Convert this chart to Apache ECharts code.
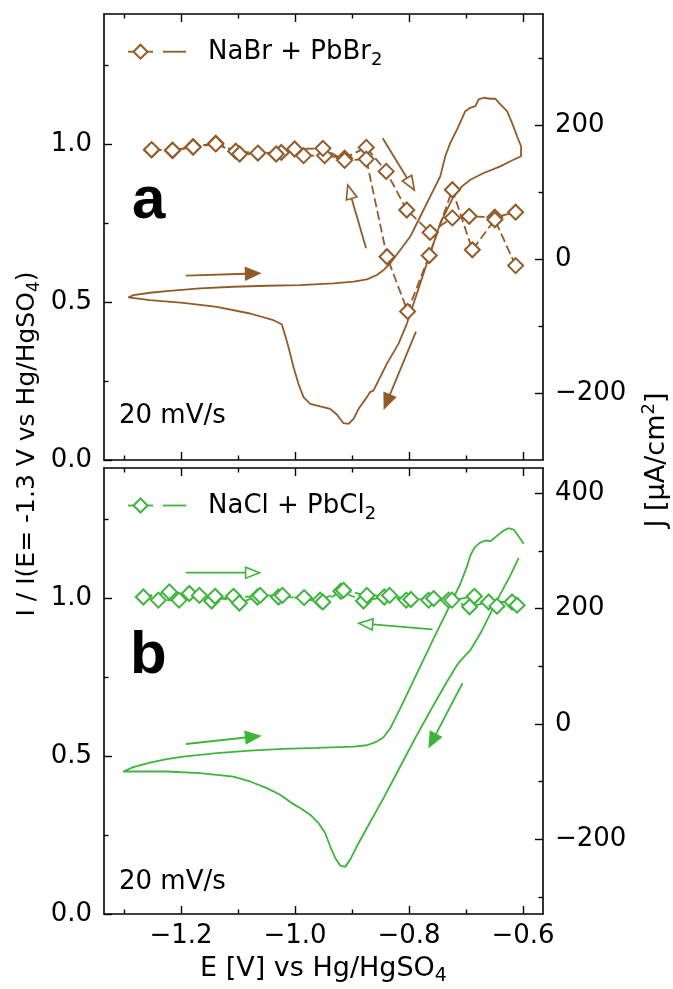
<!DOCTYPE html>
<html>
<head>
<meta charset="utf-8">
<script src="https://cdn.jsdelivr.net/npm/echarts@6/dist/echarts.min.js"></script>
<style>
  html, body { margin: 0; padding: 0; background: #fff; }
  #chart { width: 673px; height: 989px; }
</style>
</head>
<body>
<div id="chart"></div>
<script>
// ---------------- data ----------------
const xMajorTicks = [-1.2, -1.0, -0.8, -0.6];
const xMinorTicks = [-1.3, -1.1, -0.9, -0.7];
const iMajorTicks = [0, 0.5, 1.0];
const iMinorTicks = [0.25, 0.75, 1.25];
const jMajorTicksA = [-200, 0, 200];
const jMinorTicksA = [-100, 100, 300];
const jMajorTicksB = [-200, 0, 200, 400];
const jMinorTicksB = [-300, -100, 100, 300];

// Panel a: NaBr + PbBr2, cyclic voltammogram (J, uA/cm2)
const cvA_E = [-1.2924,-1.2836,-1.2543,-1.2251,-1.1666,-1.1080,-1.0495,-0.9910,-0.9325,-0.8973,-0.8739,-0.8564,-0.8447,-0.8329,-0.8154,-0.7978,-0.7803,-0.7627,-0.7452,-0.7364,-0.7276,-0.7159,-0.7013,-0.6925,-0.6837,-0.6779,-0.6691,-0.6574,-0.6486,-0.6398,-0.6281,-0.6193,-0.6105,-0.6035,-0.6035,-0.6222,-0.6398,-0.6691,-0.6925,-0.7071,-0.7218,-0.7335,-0.7452,-0.7569,-0.7686,-0.7803,-0.7920,-0.8037,-0.8183,-0.8388,-0.8534,-0.8622,-0.8681,-0.8739,-0.8885,-0.8973,-0.9061,-0.9149,-0.9266,-0.9383,-0.9559,-0.9734,-0.9851,-0.9939,-1.0027,-1.0115,-1.0173,-1.0232,-1.0378,-1.0788,-1.1373,-1.1958,-1.2543,-1.2924];
const cvA_J = [-57,-53.5,-50,-47.5,-43.5,-41,-39.5,-38.5,-36,-33.5,-30,-23.5,-16,-6,14,34,64,94,124,154,174,194,221.5,226.5,229,239,241.5,240,240,231.5,221.5,204,184,169,154,146.5,139,129,119,109,94,74,54,24,-6,-36,-66,-96,-126,-156,-181,-196,-198.5,-206,-223.5,-238.5,-246,-245,-232,-223.5,-220,-216,-206,-186,-161,-131,-113.5,-97,-91,-81,-71,-65,-61,-57];

// Panel a: normalised intensity I / I(E=-1.3 V)
const nabrFwd_E = [-1.2515,-1.2148,-1.1787,-1.139,-1.104,-1.065,-1.024,-0.985,-0.948,-0.913,-0.875,-0.840,-0.804,-0.763,-0.724,-0.6945,-0.6495,-0.613];
const nabrFwd_I = [0.981,0.979,0.991,1.002,0.977,0.971,0.973,0.963,0.963,0.955,0.989,0.913,0.791,0.720,0.766,0.771,0.768,0.784];
const nabrRev_E = [-0.613,-0.6495,-0.689,-0.724,-0.7645,-0.8025,-0.8386,-0.875,-0.913,-0.951,-1.0007,-1.033,-1.097,-1.139,-1.1787,-1.2148,-1.2515];
const nabrRev_I = [0.615,0.760,0.665,0.855,0.647,0.470,0.643,0.952,0.948,0.986,0.984,0.968,0.968,1.000,0.990,0.980,0.982];

// Panel b: NaCl + PbCl2, cyclic voltammogram
const cvB_E = [-0.6076,-0.6222,-0.6457,-0.6749,-0.6925,-0.7100,-0.7159,-0.7335,-0.7569,-0.7861,-0.8154,-0.8447,-0.8739,-0.8915,-0.9032,-0.9120,-0.9207,-0.9295,-0.9383,-0.9471,-0.9588,-0.9734,-0.9910,-1.0056,-1.0261,-1.0495,-1.0788,-1.1080,-1.1666,-1.2251,-1.2719,-1.3012,-1.2836,-1.2543,-1.2251,-1.1958,-1.1373,-1.0788,-1.0202,-0.9617,-0.8973,-0.8739,-0.8564,-0.8447,-0.8329,-0.8154,-0.7861,-0.7569,-0.7276,-0.7100,-0.6983,-0.6925,-0.6855,-0.6761,-0.6662,-0.6574,-0.6457,-0.6340,-0.6252,-0.6164,-0.6076,-0.5988];
const cvB_J = [288.2,257.6,214.4,156.8,128,109.5,102,73.2,32.9,-19,-73.8,-128.5,-180.4,-212.1,-235.2,-247.8,-245.5,-232.3,-212.1,-189,-171.8,-157.3,-145.8,-137.2,-122.8,-111.2,-99.7,-91.1,-85.3,-82.4,-82.4,-82.4,-74.9,-66.9,-61.1,-56.5,-50.7,-46.1,-43.2,-41.5,-39.2,-36.9,-30.5,-23.1,-7.5,27.1,87.6,148.1,206.9,243.2,273.2,292.2,305.5,314.1,318.2,317,326.2,335.4,339.5,337.2,325.1,312.4];

const naclFwd_E = [-1.266,-1.2204,-1.1853,-1.1461,-1.108,-1.0659,-1.029,-0.984,-0.9559,-0.9196,-0.8798,-0.8435,-0.8049,-0.7656,-0.7305,-0.6937,-0.6603,-0.6193];
const naclFwd_I = [1.003,1.019,1.014,0.990,1.005,1.003,1.003,1.001,0.993,1.021,0.990,1.003,0.993,0.993,0.993,0.972,0.987,0.987];
const naclRev_E = [-0.6105,-0.6457,-0.6855,-0.7247,-0.7569,-0.7967,-0.8341,-0.8739,-0.915,-0.9512,-1.022,-1.0612,-1.0975,-1.1402,-1.1677,-1.2034,-1.2397];
const naclRev_I = [0.977,0.974,1.005,0.993,0.998,0.995,1.008,1.008,1.024,0.987,1.008,1.008,0.984,1.005,1.008,0.993,0.993];

// Scan-direction arrows [E_start, J_start, E_end, J_end, filledHead]
const arrowsA = [[-1.1915,-24.5,-1.062,-20.9,1],[-0.7878,-108.2,-0.8432,-222.3,1],[-0.8462,180.9,-0.7907,103.6,0],[-0.8753,16.4,-0.9075,111.1,0]];
const arrowsB = [[-1.1915,262.4,-1.062,262.4,0],[-0.7587,164.2,-0.8883,174.6,0],[-1.1915,-34.7,-1.062,-20.8,1],[-0.7062,70.6,-0.7645,-39.4,1]];

// ---------------- style / layout ----------------
const BROWN = '#925a28';
const GREEN = '#3db53d';
const FONT = "'DejaVu Sans', sans-serif";
const X_MIN = -1.335, X_MAX = -0.565;
const I_MIN = 0, I_MAX = 1.411;
const J_A = [-300, 366.7];
const J_B = [-329.5, 443.9];
const GRIDS = [{ left: 104, top: 14, width: 439, height: 446 }, { left: 104, top: 468, width: 439, height: 446 }];

const zip = (a, b) => a.map((v, i) => [v, b[i]]);
const fmt1 = v => (v < 0 ? '\u2212' : '') + Math.abs(v).toFixed(1);
const fmt0 = v => (v < 0 ? '\u2212' : '') + Math.abs(v).toFixed(0);

function axisBase(extra) {
  return Object.assign({
    type: 'value',
    splitLine: { show: false },
    axisLine: { show: true, onZero: false, lineStyle: { color: '#000', width: 1.6 } },
    axisLabel: { show: false },
    axisPointer: { show: false }
  }, extra);
}
function tickStyle(values, len) {
  return { show: true, inside: true, length: len, customValues: values, lineStyle: { color: '#000', width: 1.4 } };
}
const subRich = (size) => ({
  s: { fontSize: size, fontFamily: FONT, color: '#000', verticalAlign: 'bottom' },
  p: { fontSize: size, fontFamily: FONT, color: '#000', verticalAlign: 'top' }
});

const xAxes = [], yAxes = [];
[0, 1].forEach(g => {
  xAxes.push(axisBase({
    gridIndex: g, position: 'bottom', min: X_MIN, max: X_MAX,
    axisTick: tickStyle(xMajorTicks, 8),
    axisLabel: g === 1 ? { show: true, customValues: xMajorTicks, formatter: fmt1, margin: 9, fontSize: 26, fontFamily: FONT, color: '#000' } : { show: false },
    name: g === 1 ? 'E [V] vs Hg/HgSO{s|4}' : '',
    nameLocation: 'middle', nameGap: 38,
    nameTextStyle: { fontSize: 27, lineHeight: 34, fontFamily: FONT, color: '#000', rich: subRich(19) }
  }));
  xAxes.push(axisBase({ gridIndex: g, position: 'bottom', min: X_MIN, max: X_MAX, axisLine: { show: false, onZero: false }, axisTick: tickStyle(xMinorTicks, 4.5) }));
  xAxes.push(axisBase({ gridIndex: g, position: 'top', min: X_MIN, max: X_MAX, axisTick: tickStyle(xMajorTicks, 8) }));
  xAxes.push(axisBase({ gridIndex: g, position: 'top', min: X_MIN, max: X_MAX, axisLine: { show: false, onZero: false }, axisTick: tickStyle(xMinorTicks, 4.5) }));

  const J = g === 0 ? J_A : J_B;
  const jMaj = g === 0 ? jMajorTicksA : jMajorTicksB;
  const jMin = g === 0 ? jMinorTicksA : jMinorTicksB;
  yAxes.push(axisBase({
    gridIndex: g, position: 'left', min: I_MIN, max: I_MAX,
    axisTick: tickStyle(iMajorTicks, 8),
    axisLabel: { show: true, customValues: iMajorTicks, formatter: fmt1, margin: 12, fontSize: 26, fontFamily: FONT, color: '#000' }
  }));
  yAxes.push(axisBase({ gridIndex: g, position: 'left', min: I_MIN, max: I_MAX, axisLine: { show: false, onZero: false }, axisTick: tickStyle(iMinorTicks, 4.5) }));
  yAxes.push(axisBase({
    gridIndex: g, position: 'right', min: J[0], max: J[1],
    axisTick: tickStyle(jMaj, 8),
    axisLabel: { show: true, customValues: jMaj, formatter: fmt0, margin: 12, fontSize: 26, fontFamily: FONT, color: '#000' }
  }));
  yAxes.push(axisBase({ gridIndex: g, position: 'right', min: J[0], max: J[1], axisLine: { show: false, onZero: false }, axisTick: tickStyle(jMin, 4.5) }));
});

function arrowRender(params, api) {
  const p1 = api.coord([api.value(0), api.value(1)]);
  const p2 = api.coord([api.value(2), api.value(3)]);
  const filled = api.value(4) === 1;
  const color = api.visual('color');
  const dx = p2[0] - p1[0], dy = p2[1] - p1[1];
  const len = Math.hypot(dx, dy);
  const ux = dx / len, uy = dy / len;
  const L = filled ? 14 : 14, W = filled ? 6 : 5.5;
  const bx = p2[0] - ux * L, by = p2[1] - uy * L;
  const nx = -uy, ny = ux;
  return {
    type: 'group',
    children: [
      { type: 'line', shape: { x1: p1[0], y1: p1[1], x2: bx, y2: by }, style: { stroke: color, lineWidth: 1.8 } },
      { type: 'polygon', shape: { points: [[p2[0], p2[1]], [bx + nx * W, by + ny * W], [bx - nx * W, by - ny * W]] },
        style: { fill: filled ? color : '#fff', stroke: color, lineWidth: 1.6 } }
    ]
  };
}

function diamondSeries(name, g, E, I, color) {
  return {
    name, type: 'line', xAxisIndex: g * 4, yAxisIndex: g * 4,
    data: zip(E, I), symbol: 'diamond', symbolSize: 15, showSymbol: true,
    itemStyle: { color: '#fff', borderColor: color, borderWidth: 2 },
    lineStyle: { color, width: 1.8, type: [9, 4] },
    z: 4, silent: true
  };
}
function cvSeries(name, g, E, J, color) {
  return {
    name, type: 'line', xAxisIndex: g * 4, yAxisIndex: g * 4 + 2,
    data: zip(E, J), showSymbol: false, symbol: 'none',
    lineStyle: { color, width: 1.8 }, z: 3, silent: true
  };
}
function arrowSeries(g, arr, color) {
  return {
    type: 'custom', xAxisIndex: g * 4, yAxisIndex: g * 4 + 2,
    data: arr, renderItem: arrowRender, encode: { x: [0, 2], y: [1, 3] },
    itemStyle: { color }, z: 5, silent: true, clip: false
  };
}

function legendGroup(y, color, label) {
  const cx = 140.5, r = 7;
  return [
    { type: 'line', shape: { x1: 128, y1: y, x2: 153, y2: y }, style: { stroke: color, lineWidth: 1.8 } },
    { type: 'polygon', shape: { points: [[cx, y - r], [cx + r, y], [cx, y + r], [cx - r, y]] }, style: { fill: '#fff', stroke: color, lineWidth: 2 } },
    { type: 'line', shape: { x1: 163, y1: y, x2: 186, y2: y }, style: { stroke: color, lineWidth: 1.8 } },
    { type: 'text', x: 208, y: y + 1, style: { text: label, fontSize: 26, lineHeight: 34, fontFamily: FONT, fill: '#000', verticalAlign: 'middle', align: 'left', rich: subRich(18) } }
  ];
}

const graphic = [
  ...legendGroup(51.7, BROWN, 'NaBr + PbBr{s|2}'),
  ...legendGroup(505.5, GREEN, 'NaCl + PbCl{s|2}'),
  { type: 'text', x: 132, y: 201, style: { text: 'a', fontSize: 60, fontWeight: 'bold', fontFamily: "'Liberation Sans', Arial, sans-serif", fill: '#000', verticalAlign: 'middle' } },
  { type: 'text', x: 130, y: 656, style: { text: 'b', fontSize: 60, fontWeight: 'bold', fontFamily: "'Liberation Sans', Arial, sans-serif", fill: '#000', verticalAlign: 'middle' } },
  { type: 'text', x: 119, y: 416, style: { text: '20 mV/s', fontSize: 26, fontFamily: FONT, fill: '#000', verticalAlign: 'middle' } },
  { type: 'text', x: 119, y: 882, style: { text: '20 mV/s', fontSize: 26, fontFamily: FONT, fill: '#000', verticalAlign: 'middle' } },
  { type: 'text', x: 27, y: 444, rotation: Math.PI / 2, style: { text: 'I / I(E= -1.3 V vs Hg/HgSO{s|4})', fontSize: 25, lineHeight: 32, fontFamily: FONT, fill: '#000', align: 'center', verticalAlign: 'middle', rich: subRich(17) } },
  { type: 'text', x: 657, y: 460, rotation: Math.PI / 2, style: { text: 'J [\u03bcA/cm{p|2}]', fontSize: 27, lineHeight: 34, fontFamily: FONT, fill: '#000', align: 'center', verticalAlign: 'middle', rich: subRich(18) } }
];

const option = {
  animation: false,
  backgroundColor: '#fff',
  grid: GRIDS,
  xAxis: xAxes,
  yAxis: yAxes,
  graphic,
  series: [
    cvSeries('NaBr + PbBr2 CV', 0, cvA_E, cvA_J, BROWN),
    diamondSeries('NaBr + PbBr2 fwd', 0, nabrFwd_E, nabrFwd_I, BROWN),
    diamondSeries('NaBr + PbBr2 rev', 0, nabrRev_E, nabrRev_I, BROWN),
    arrowSeries(0, arrowsA, BROWN),
    cvSeries('NaCl + PbCl2 CV', 1, cvB_E, cvB_J, GREEN),
    diamondSeries('NaCl + PbCl2 fwd', 1, naclFwd_E, naclFwd_I, GREEN),
    diamondSeries('NaCl + PbCl2 rev', 1, naclRev_E, naclRev_I, GREEN),
    arrowSeries(1, arrowsB, GREEN)
  ]
};

const chart = echarts.init(document.getElementById('chart'), null, { renderer: 'canvas' });
chart.setOption(option);
</script>
</body>
</html>
